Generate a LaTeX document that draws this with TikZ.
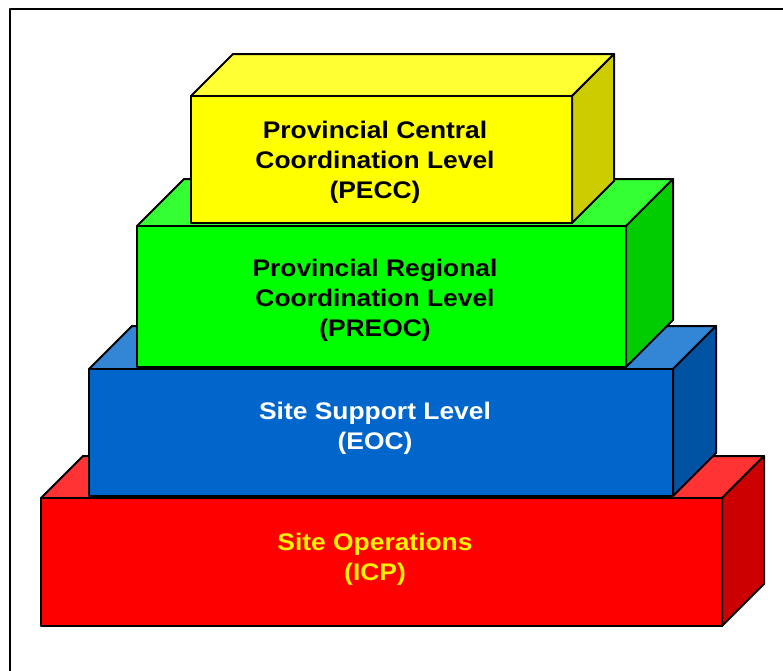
\documentclass[tikz,border=0pt]{standalone}
\usepackage{fontspec}
\setmainfont{Liberation Sans}[FakeStretch=1.1]
\definecolor{redfront}{HTML}{FF0000}
\definecolor{redtop}{HTML}{FF3333}
\definecolor{redside}{HTML}{CC0000}
\definecolor{bluefront}{HTML}{0066CC}
\definecolor{bluetop}{HTML}{3385D6}
\definecolor{blueside}{HTML}{0052A3}
\definecolor{greenfront}{HTML}{00FF00}
\definecolor{greentop}{HTML}{33FF33}
\definecolor{greenside}{HTML}{00CC00}
\definecolor{yellowfront}{HTML}{FFFF00}
\definecolor{yellowtop}{HTML}{FFFF33}
\definecolor{yellowside}{HTML}{CCCC00}
% block: x1, y1 (front top left), x2, y2 (front bottom right), depth, front, top, side
\newcommand{\block}[8]{%
  \filldraw[fill=#7] (#1,#2) -- (#1+#5,#2-#5) -- (#3+#5,#2-#5) -- (#3,#2) -- cycle;
  \filldraw[fill=#8] (#3,#2) -- (#3+#5,#2-#5) -- (#3+#5,#4-#5) -- (#3,#4) -- cycle;
  \filldraw[fill=#6] (#1,#2) rectangle (#3,#4);
}
\begin{document}
\begin{tikzpicture}[x=1pt,y=-1pt,line width=2pt,line join=round,
  lbl/.style={align=center,font=\fontsize{24}{30}\selectfont\bfseries}]
\useasboundingbox (0,0) rectangle (783,670);
\clip (0,0) rectangle (783,670);
\draw (10,9) rectangle (800,690);
\block{41}{498}{722}{626}{42}{redfront}{redtop}{redside}
\block{89}{369}{673}{496}{43}{bluefront}{bluetop}{blueside}
\block{137}{226}{626}{367}{47}{greenfront}{greentop}{greenside}
\block{191}{96}{572}{223}{42}{yellowfront}{yellowtop}{yellowside}
\node[lbl,text=yellow] (icp) at (375,559) {Site Operations\\(ICP)};
\node[lbl,text=white] (eoc) at (375,428) {Site Support Level\\(EOC)};
\node[lbl] (preoc) at (375,300) {Provincial Regional\\Coordination Level\\(PREOC)};
\node[lbl] (pecc) at (375,162) {Provincial Central\\Coordination Level\\(PECC)};
\end{tikzpicture}
\end{document}
